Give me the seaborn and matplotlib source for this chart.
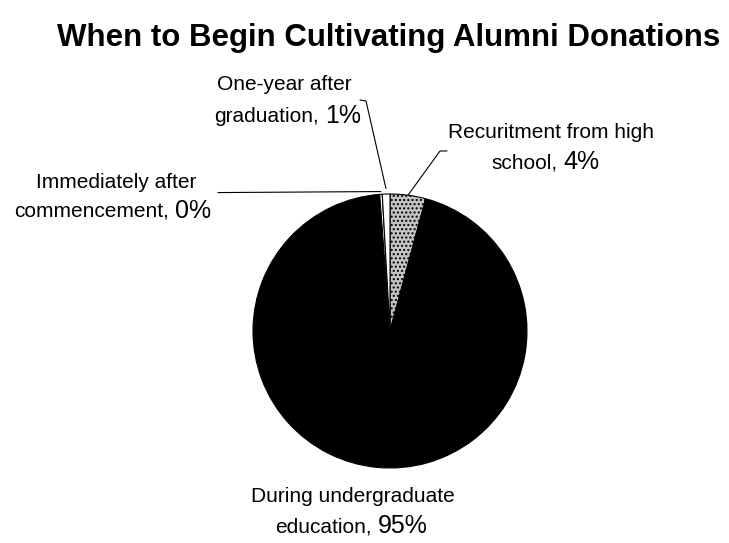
import matplotlib
matplotlib.use("Agg")
import matplotlib.pyplot as plt
import seaborn as sns
import numpy as np

categories = ["Recuritment from high\nschool", "During undergraduate\neducation",
              "Immediately after\ncommencement", "One-year after\ngraduation"]
values = [4.2, 94.6, 0.3, 0.9]
pct_labels = ["4%", "95%", "0%", "1%"]
colors = ["#c4c4c4", "#000000", "#ffffff", "#ffffff"]

sns.set_theme(style="white")
plt.rcParams["font.family"] = ["Liberation Sans", "DejaVu Sans"]
plt.rcParams["text.color"] = "black"

W, H = 729, 543
fig = plt.figure(figsize=(W / 100, H / 100), dpi=100)

ov = fig.add_axes([0, 0, 1, 1])
ov.set_xlim(0, W)
ov.set_ylim(H, 0)
ov.axis("off")

cx, cy, r = 390, 331, 137
ax = fig.add_axes([(cx - r) / W, (H - cy - r) / H, 2 * r / W, 2 * r / H])
wedges, _ = ax.pie(values, colors=colors, startangle=90, counterclock=False,
                   wedgeprops=dict(edgecolor="black", linewidth=0.8))
wedges[0].set_hatch("....")
ax.set_xlim(-1, 1)
ax.set_ylim(-1, 1)

ov.text(389, 38, "When to Begin Cultivating Alumni Donations",
        ha="center", va="center", fontsize=22.5, fontweight="bold", color="black")

def edge_px(w, frac=0.5, rr=1.0):
    ang = np.deg2rad(w.theta1 + (w.theta2 - w.theta1) * frac)
    p = ax.transData.transform((rr * np.cos(ang), rr * np.sin(ang)))
    return p[0], H - p[1]

fs_txt, fs_pct = 15, 18

def label(x1, y1, xs, y2, line1, line2, pct):
    ov.text(x1, y1, line1, ha="center", va="center", fontsize=fs_txt, color="black")
    ov.text(xs - 6, y2, line2, ha="right", va="center", fontsize=fs_txt, color="black")
    ov.text(xs, y2 - 1, pct, ha="left", va="center", fontsize=fs_pct, color="black")

# One-year after graduation
px, py = edge_px(wedges[3], 0.5, 1.04)
ov.plot([px, 366, 360], [py, 101, 100], color="black", lw=0.8)
label(284, 85, 325, 117, "One-year after", "graduation,", pct_labels[3])

# Recruitment from high school
px, py = edge_px(wedges[0], 0.5, 1.0)
ov.plot([px, 440, 447], [py, 151, 151], color="black", lw=0.8)
label(551, 133, 563, 163, "Recuritment from high", "school,", pct_labels[0])

# Immediately after commencement
px, py = edge_px(wedges[2], 0.5, 1.02)
ov.plot([px, 218], [py, py + 1], color="black", lw=0.8)
label(116, 183, 175, 212, "Immediately after", "commencement,", pct_labels[2])

# During undergraduate education
label(353, 496, 378, 527, "During undergraduate", "education,", pct_labels[1])

fig.savefig("out.png", dpi=100)
